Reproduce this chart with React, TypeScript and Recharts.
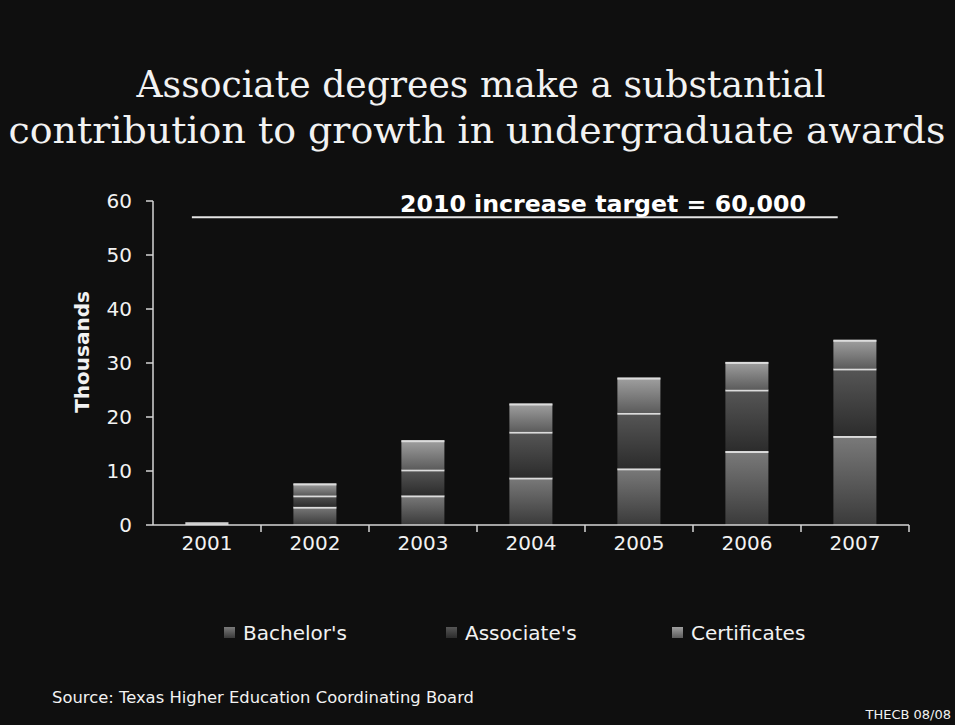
import React from "react";
import { Bar, BarChart, ReferenceLine, XAxis, YAxis } from "recharts";

const years = ["2001", "2002", "2003", "2004", "2005", "2006", "2007"];
const bachelors = [0.2, 3.4, 5.5, 8.8, 10.5, 13.7, 16.5];
const associates = [0.2, 2.1, 4.8, 8.5, 10.3, 11.4, 12.5];
const certificates = [0.1, 2.2, 5.4, 5.2, 6.5, 5.1, 5.3];
const yTicks = [0, 10, 20, 30, 40, 50, 60];
const targetValue = 57;
// target line spans these fractions of the category range (0..7)
const targetFrom = 0.36;
const targetTo = 6.34;

const series = [
  { key: "bachelors", name: "Bachelor's", top: "#7a7a7a", bottom: "#3a3a3a" },
  { key: "associates", name: "Associate's", top: "#565656", bottom: "#2c2c2c" },
  { key: "certificates", name: "Certificates", top: "#a0a0a0", bottom: "#5c5c5c" },
];

const data = years.map((year, i) => ({
  year,
  bachelors: bachelors[i],
  associates: associates[i],
  certificates: certificates[i],
}));

const axisColor = "#d6d6d6";
const textColor = "#f2f2f2";
const sans = "'DejaVu Sans', Verdana, sans-serif";
const legendX = [224, 446, 672];

const Segment = (props: any) => {
  const { x, y, width, height, gradId } = props;
  if (!height || height <= 0) return null;
  return (
    <g>
      <rect x={x} y={y} width={width} height={height} fill={`url(#${gradId})`} />
      <rect x={x} y={y} width={width} height={Math.min(2, height)} fill="#dcdcdc" />
    </g>
  );
};

const YearTick = (props: any) => {
  const { x, y, payload, width, visibleTicksCount } = props;
  const half = width && visibleTicksCount ? width / visibleTicksCount / 2 : 54;
  return (
    <g>
      <line x1={x + half} x2={x + half} y1={y} y2={y + 7} stroke={axisColor} strokeWidth={1.5} />
      <text x={x} y={y + 18} dy="0.35em" textAnchor="middle" fill={textColor} fontSize={20} fontFamily={sans}>
        {payload.value}
      </text>
    </g>
  );
};

const TargetLine = (props: any) => {
  const { x1, x2, y1 } = props;
  const span = x2 - x1;
  const n = years.length;
  return (
    <line
      x1={x1 + (span * targetFrom) / n}
      x2={x1 + (span * targetTo) / n}
      y1={y1}
      y2={y1}
      stroke="#e4e4e4"
      strokeWidth={2}
    />
  );
};

export default function App() {
  return (
    <div style={{ position: "absolute", left: 0, top: 0, width: 955, height: 725, background: "#0f0f0f", overflow: "hidden" }}>
      <BarChart
        width={955}
        height={725}
        data={data}
        margin={{ top: 201, right: 46, left: 73, bottom: 170 }}
        barCategoryGap="30%"
      >
        <defs>
          {series.map((s) => (
            <linearGradient key={s.key} id={`g-${s.key}`} x1="0" y1="0" x2="0" y2="1">
              <stop offset="0%" stopColor={s.top} />
              <stop offset="100%" stopColor={s.bottom} />
            </linearGradient>
          ))}
        </defs>
        <XAxis
          dataKey="year"
          height={30}
          stroke={axisColor}
          strokeWidth={1.5}
          tickLine={false}
          tickSize={0}
          tickMargin={0}
          tick={<YearTick />}
          interval={0}
        />
        <YAxis
          width={80}
          domain={[0, 60]}
          ticks={yTicks}
          interval={0}
          stroke={axisColor}
          strokeWidth={1.5}
          tickSize={7}
          tickMargin={14}
          tick={{ fill: textColor, fontSize: 20, fontFamily: sans }}
        />
        {series.map((s) => (
          <Bar
            key={s.key}
            dataKey={s.key}
            name={s.name}
            stackId="a"
            fill={s.top}
            isAnimationActive={false}
            shape={(p: any) => <Segment {...p} gradId={`g-${s.key}`} />}
          />
        ))}
        <ReferenceLine y={targetValue} shape={(p: any) => <TargetLine {...p} />} />
      </BarChart>

      <svg width={955} height={725} style={{ position: "absolute", left: 0, top: 0, pointerEvents: "none" }}>
        <g fill={textColor} fontFamily="'DejaVu Serif', Georgia, serif" fontSize={38} textAnchor="middle">
          <text x={481} y={97} textLength={689} lengthAdjust="spacingAndGlyphs">
            Associate degrees make a substantial
          </text>
          <text x={477} y={143} textLength={937} lengthAdjust="spacingAndGlyphs">
            contribution to growth in undergraduate awards
          </text>
        </g>
        <text
          transform="translate(82, 352) rotate(-90)"
          textAnchor="middle"
          dominantBaseline="central"
          fill={textColor}
          fontSize={20}
          fontWeight="bold"
          fontFamily={sans}
        >
          Thousands
        </text>
        <text x={400} y={212} fill="#ffffff" fontFamily={sans} fontWeight="bold" fontSize={23} textLength={406} lengthAdjust="spacingAndGlyphs">
          2010 increase target = 60,000
        </text>
        <defs>
          {series.map((s) => (
            <linearGradient key={s.key} id={`lg-${s.key}`} x1="0" y1="0" x2="0" y2="1">
              <stop offset="0%" stopColor={s.top} />
              <stop offset="100%" stopColor={s.bottom} />
            </linearGradient>
          ))}
        </defs>
        {series.map((s, i) => (
          <g key={s.key}>
            <rect x={legendX[i]} y={627} width={11} height={11} fill={`url(#lg-${s.key})`} />
            <text x={legendX[i] + 19} y={640} fill={textColor} fontSize={20} fontFamily={sans}>
              {s.name}
            </text>
          </g>
        ))}
        <text x={52} y={703} fill={textColor} fontSize={15} fontFamily={sans} textLength={422} lengthAdjust="spacingAndGlyphs">
          Source: Texas Higher Education Coordinating Board
        </text>
        <text x={951} y={719} textAnchor="end" fill={textColor} fontSize={13} fontFamily={sans}>
          THECB 08/08
        </text>
      </svg>
    </div>
  );
}
